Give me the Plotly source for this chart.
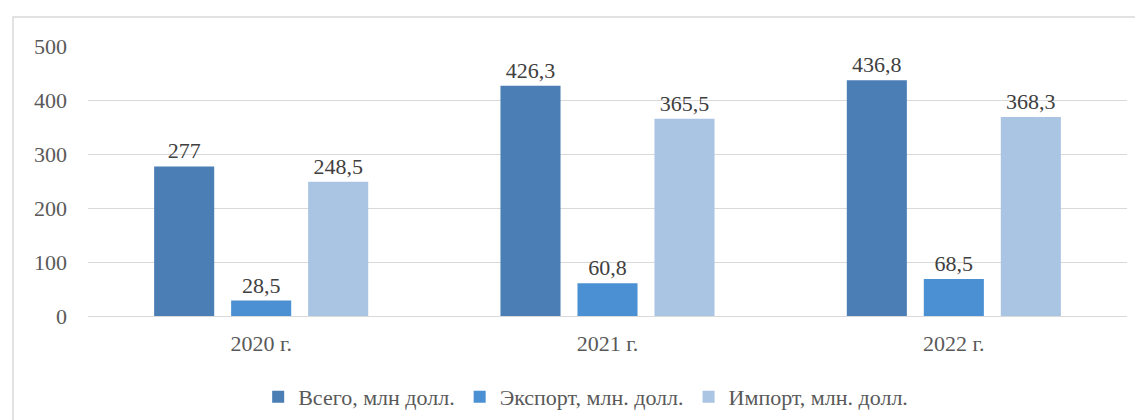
import plotly.graph_objects as go

categories = ["2020 г.", "2021 г.", "2022 г."]
total = [277, 426.3, 436.8]
export = [28.5, 60.8, 68.5]
imports = [248.5, 365.5, 368.3]
series_names = ["Всего, млн долл.", "Экспорт, млн. долл.", "Импорт, млн. долл."]
colors = ["#4A7EB5", "#4A90D2", "#AAC4E4"]
y_ticks = [0, 100, 200, 300, 400, 500]

FONT = "Times New Roman"
FS = 22


def fmt(v):
    s = ("%g" % v)
    return s.replace(".", ",")


fig = go.Figure()
for name, vals, col in zip(series_names, [total, export, imports], colors):
    fig.add_trace(go.Bar(
        x=categories, y=vals, name=name,
        marker=dict(color=col, line=dict(width=0)),
        text=[fmt(v) for v in vals], textposition="outside",
        textfont=dict(family=FONT, size=FS, color="#404040"),
        cliponaxis=False,
    ))

OFF = 8
W, H = 1143 - OFF, 420 - OFF
ml, mr, mt, mb = 88 - OFF, 16, 46 - OFF, 104
pw = W - ml - mr
ph = H - mt - mb

fig.update_layout(
    width=W, height=H,
    margin=dict(l=ml, r=mr, t=mt, b=mb, autoexpand=False),
    paper_bgcolor="white", plot_bgcolor="white",
    barmode="group", bargap=0.333, bargroupgap=0.22,
    font=dict(family=FONT, size=FS, color="#595959"),
    showlegend=True,
    legend=dict(orientation="h", xref="paper", x=0.479, xanchor="center",
                yref="container", y=1 - (397 - OFF) / H, yanchor="middle",
                font=dict(family=FONT, size=FS, color="#595959"),
                itemwidth=30, traceorder="normal"),
    xaxis=dict(showgrid=False, showline=False, ticks="", ticklabelstandoff=12, automargin=False,
               tickfont=dict(family=FONT, size=FS, color="#595959")),
    yaxis=dict(range=[0, 500], tickvals=y_ticks, showgrid=True, gridcolor="#D9D9D9", gridwidth=1.2,
               zeroline=True, zerolinecolor="#D9D9D9", zerolinewidth=1.2, showline=False, automargin=False,
               ticks="", ticklabelstandoff=20, tickfont=dict(family=FONT, size=FS, color="#595959")),
    shapes=[dict(type="rect", xref="paper", yref="paper",
                 x0=(13 - OFF - ml) / pw, x1=(W + 5 - ml) / pw,
                 y0=-(H + 5 - mt - ph) / ph, y1=1 + (mt - (17 - OFF)) / ph,
                 line=dict(color="#D9D9D9", width=1.5), layer="below")],
)

fig.write_html("out.html")
